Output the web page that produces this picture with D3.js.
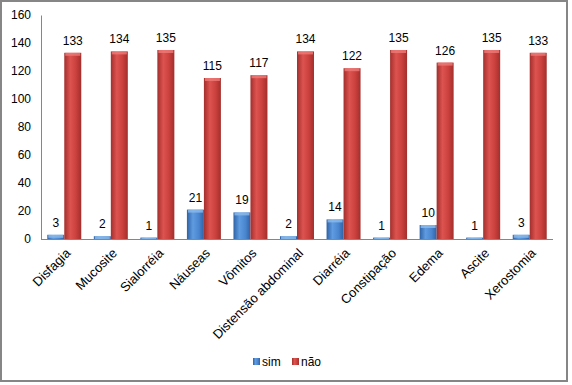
<!DOCTYPE html>
<html>
<head>
<meta charset="utf-8">
<script src="https://cdn.jsdelivr.net/npm/d3@7"></script>
<style>
  body { margin: 0; background: #fff; }
  text { font-family: "Liberation Sans", Arial, sans-serif; fill: #000; }
</style>
</head>
<body>
<script>
  // Chart data
  const categories = ["Disfagia", "Mucosite", "Sialorréia", "Náuseas", "Vômitos",
    "Distensão abdominal", "Diarréia", "Constipação", "Edema", "Ascite", "Xerostomia"];
  const sim = [3, 2, 1, 21, 19, 2, 14, 1, 10, 1, 3];
  const nao = [133, 134, 135, 115, 117, 134, 122, 135, 126, 135, 133];
  const seriesNames = ["sim", "não"];
  const yTicks = [0, 20, 40, 60, 80, 100, 120, 140, 160];

  const width = 572, height = 385;
  const margin = { left: 41, right: 19, top: 15, bottom: 146 };

  const svg = d3.select("body").append("svg")
    .attr("width", width)
    .attr("height", height);

  // gradients for the bars
  const defs = svg.append("defs");
  function grad(id, dark, mid, light) {
    const g = defs.append("linearGradient").attr("id", id)
      .attr("x1", "0%").attr("x2", "100%").attr("y1", "0%").attr("y2", "0%");
    g.append("stop").attr("offset", "0%").attr("stop-color", dark);
    g.append("stop").attr("offset", "35%").attr("stop-color", light);
    g.append("stop").attr("offset", "70%").attr("stop-color", mid);
    g.append("stop").attr("offset", "100%").attr("stop-color", dark);
  }
  grad("gSim", "#2f62a6", "#4a86cf", "#5f9be0");
  grad("gNao", "#a22f2c", "#c9403d", "#dd5350");
  const colors = { sim: "url(#gSim)", nao: "url(#gNao)" };
  const capColors = { sim: "#8dbbeb", nao: "#ee7b78" };

  // outer border
  svg.append("rect")
    .attr("x", 1).attr("y", 1)
    .attr("width", 566).attr("height", 380)
    .attr("fill", "none")
    .attr("stroke", "#868686")
    .attr("stroke-width", 2);

  const x = d3.scaleBand()
    .domain(categories)
    .range([margin.left, width - margin.right])
    .paddingInner(0.27)
    .paddingOuter(0.135);

  const x1 = d3.scaleBand()
    .domain(seriesNames)
    .range([0, x.bandwidth()]);

  const y = d3.scaleLinear()
    .domain([0, 160])
    .range([height - margin.bottom - 0, margin.top]);

  // y axis
  const yAxis = svg.append("g")
    .attr("transform", `translate(${margin.left},0)`)
    .call(d3.axisLeft(y).tickValues(yTicks).tickSize(0).tickPadding(10));
  yAxis.select(".domain").attr("stroke", "#868686");
  yAxis.selectAll("text")
    .style("font-size", "12px")
    .style("font-family", "Liberation Sans, Arial, sans-serif");

  // x axis
  const xAxis = svg.append("g")
    .attr("transform", `translate(0,${y(0)})`)
    .call(d3.axisBottom(x).tickSize(0).tickSizeOuter(0));
  xAxis.select(".domain")
    .attr("d", `M${margin.left},0.5H${width - margin.right}`)
    .attr("stroke", "#868686");
  xAxis.selectAll("text")
    .style("font-size", "13px")
    .style("font-family", "Liberation Sans, Arial, sans-serif")
    .attr("text-anchor", "end")
    .attr("dy", null)
    .attr("y", 0)
    .attr("transform", "translate(7,15) rotate(-45)");

  // bars
  const rows = categories.map((c, i) => ({ cat: c, sim: sim[i], nao: nao[i] }));
  const groups = svg.append("g").selectAll("g")
    .data(rows)
    .join("g")
    .attr("transform", d => `translate(${x(d.cat)},0)`);

  const keys = [["sim", "sim"], ["nao", "não"]];
  keys.forEach(([k, name]) => {
    groups.append("rect")
      .attr("x", x1(name))
      .attr("y", d => y(d[k]))
      .attr("width", x1.bandwidth())
      .attr("height", d => y(0) - y(d[k]))
      .attr("fill", colors[k]);
    // top bevel
    groups.append("rect")
      .attr("x", x1(name) + 1)
      .attr("y", d => y(d[k]))
      .attr("width", x1.bandwidth() - 2)
      .attr("height", d => Math.min(3, y(0) - y(d[k])))
      .attr("fill", capColors[k])
      .attr("opacity", 0.8);
    groups.append("text")
      .attr("x", x1(name) + x1.bandwidth() / 2)
      .attr("y", d => y(d[k]) - 8)
      .attr("text-anchor", "middle")
      .style("font-size", "12px")
      .text(d => d[k]);
  });

  // legend
  const legend = svg.append("g").attr("transform", "translate(253,362)");
  const legendItems = [["sim", 0], ["nao", 39]];
  legendItems.forEach(([k, dx], i) => {
    legend.append("rect")
      .attr("x", dx).attr("y", -4)
      .attr("width", 7).attr("height", 7)
      .attr("fill", colors[k]);
    legend.append("text")
      .attr("x", dx + 9).attr("y", 4)
      .style("font-size", "12px")
      .text(seriesNames[i]);
  });
</script>
</body>
</html>
